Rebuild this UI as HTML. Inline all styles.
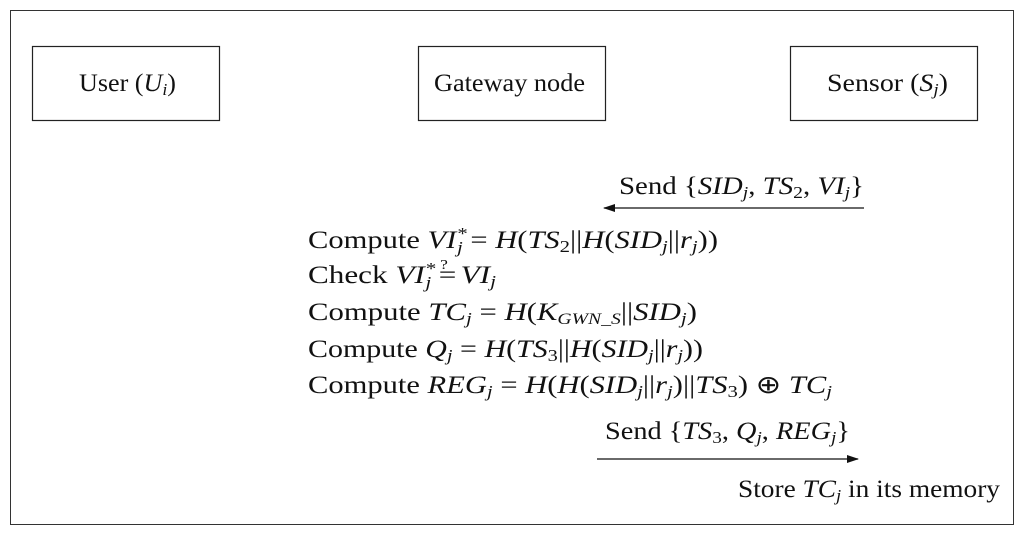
<!DOCTYPE html>
<html><head><meta charset="utf-8"><style>
html,body{margin:0;padding:0;background:#fff;}
svg{display:block;font-family:"Liberation Serif",serif;font-size:25px;fill:#111;}
.i{font-style:italic;}
</style></head><body>
<svg width="1024" height="535" viewBox="0 0 1024 535" xmlns="http://www.w3.org/2000/svg">
<defs><marker id="a" markerWidth="12" markerHeight="8" refX="11" refY="4" orient="auto" markerUnits="userSpaceOnUse"><path d="M0,0 L12,4 L0,8 Z" fill="#111"/></marker></defs>
<rect x="10.5" y="10.5" width="1003" height="514" fill="none" stroke="#333" stroke-width="1"/>
<rect x="32.5" y="46.5" width="187" height="74" fill="none" stroke="#222" stroke-width="1.2"/>
<rect x="418.5" y="46.5" width="187" height="74" fill="none" stroke="#222" stroke-width="1.2"/>
<rect x="790.5" y="46.5" width="187" height="74" fill="none" stroke="#222" stroke-width="1.2"/>
<text x="79" y="91" textLength="97" lengthAdjust="spacingAndGlyphs">User (<tspan class="i">U</tspan><tspan class="i" font-size="17" dy="4">i</tspan><tspan dy="-4">)</tspan></text>
<text x="434" y="91" textLength="151" lengthAdjust="spacingAndGlyphs">Gateway node</text>
<text x="827" y="91" textLength="121" lengthAdjust="spacingAndGlyphs">Sensor (<tspan class="i">S</tspan><tspan class="i" font-size="17" dy="4">j</tspan><tspan dy="-4">)</tspan></text>

<text x="619" y="194" textLength="245" lengthAdjust="spacingAndGlyphs">Send {<tspan class="i">SID</tspan><tspan class="i" font-size="17" dy="4">j</tspan><tspan dy="-4">, </tspan><tspan class="i">TS</tspan><tspan font-size="17" dy="4">2</tspan><tspan dy="-4">, </tspan><tspan class="i">VI</tspan><tspan class="i" font-size="17" dy="4">j</tspan><tspan dy="-4">}</tspan></text>
<line x1="864" y1="208" x2="604" y2="208" stroke="#111" stroke-width="1.3" marker-end="url(#a)"/>

<text x="308" y="248" textLength="410" lengthAdjust="spacingAndGlyphs">Compute <tspan class="i">VI</tspan><tspan class="i" font-size="17" dy="-9">*</tspan><tspan class="i" font-size="17" dx="-8" dy="14">j</tspan><tspan dy="-5"> = </tspan><tspan class="i">H</tspan>(<tspan class="i">TS</tspan><tspan font-size="17" dy="4">2</tspan><tspan dy="-4">||</tspan><tspan class="i">H</tspan>(<tspan class="i">SID</tspan><tspan class="i" font-size="17" dy="4">j</tspan><tspan dy="-4">||</tspan><tspan class="i">r</tspan><tspan class="i" font-size="17" dy="4">j</tspan><tspan dy="-4">))</tspan></text>
<text x="308" y="283" textLength="188" lengthAdjust="spacingAndGlyphs">Check <tspan class="i">VI</tspan><tspan class="i" font-size="17" dy="-9">*</tspan><tspan class="i" font-size="17" dx="-8" dy="14">j</tspan><tspan dy="-5" dx="6">=</tspan><tspan font-size="14" dx="-13" dy="-14">?</tspan><tspan dy="14" dx="4"> </tspan><tspan class="i">VI</tspan><tspan class="i" font-size="17" dy="4">j</tspan></text>
<text x="308" y="320" textLength="389" lengthAdjust="spacingAndGlyphs">Compute <tspan class="i">TC</tspan><tspan class="i" font-size="17" dy="4">j</tspan><tspan dy="-4"> = </tspan><tspan class="i">H</tspan>(<tspan class="i">K</tspan><tspan class="i" font-size="16" dy="4">GWN_S</tspan><tspan dy="-4">||</tspan><tspan class="i">SID</tspan><tspan class="i" font-size="17" dy="4">j</tspan><tspan dy="-4">)</tspan></text>
<text x="308" y="357" textLength="395" lengthAdjust="spacingAndGlyphs">Compute <tspan class="i">Q</tspan><tspan class="i" font-size="17" dy="4">j</tspan><tspan dy="-4"> = </tspan><tspan class="i">H</tspan>(<tspan class="i">TS</tspan><tspan font-size="17" dy="4">3</tspan><tspan dy="-4">||</tspan><tspan class="i">H</tspan>(<tspan class="i">SID</tspan><tspan class="i" font-size="17" dy="4">j</tspan><tspan dy="-4">||</tspan><tspan class="i">r</tspan><tspan class="i" font-size="17" dy="4">j</tspan><tspan dy="-4">))</tspan></text>
<text x="308" y="393" textLength="524" lengthAdjust="spacingAndGlyphs">Compute <tspan class="i">REG</tspan><tspan class="i" font-size="17" dy="4">j</tspan><tspan dy="-4"> = </tspan><tspan class="i">H</tspan>(<tspan class="i">H</tspan>(<tspan class="i">SID</tspan><tspan class="i" font-size="17" dy="4">j</tspan><tspan dy="-4">||</tspan><tspan class="i">r</tspan><tspan class="i" font-size="17" dy="4">j</tspan><tspan dy="-4">)||</tspan><tspan class="i">TS</tspan><tspan font-size="17" dy="4">3</tspan><tspan dy="-4">) ⊕ </tspan><tspan class="i">TC</tspan><tspan class="i" font-size="17" dy="4">j</tspan></text>

<text x="605" y="439" textLength="245" lengthAdjust="spacingAndGlyphs">Send {<tspan class="i">TS</tspan><tspan font-size="17" dy="4">3</tspan><tspan dy="-4">, </tspan><tspan class="i">Q</tspan><tspan class="i" font-size="17" dy="4">j</tspan><tspan dy="-4">, </tspan><tspan class="i">REG</tspan><tspan class="i" font-size="17" dy="4">j</tspan><tspan dy="-4">}</tspan></text>
<line x1="597" y1="459" x2="858" y2="459" stroke="#111" stroke-width="1.3" marker-end="url(#a)"/>
<text x="738" y="497" textLength="262" lengthAdjust="spacingAndGlyphs">Store <tspan class="i">TC</tspan><tspan class="i" font-size="17" dy="4">j</tspan><tspan dy="-4"> in its memory</tspan></text>
</svg>
</body></html>
